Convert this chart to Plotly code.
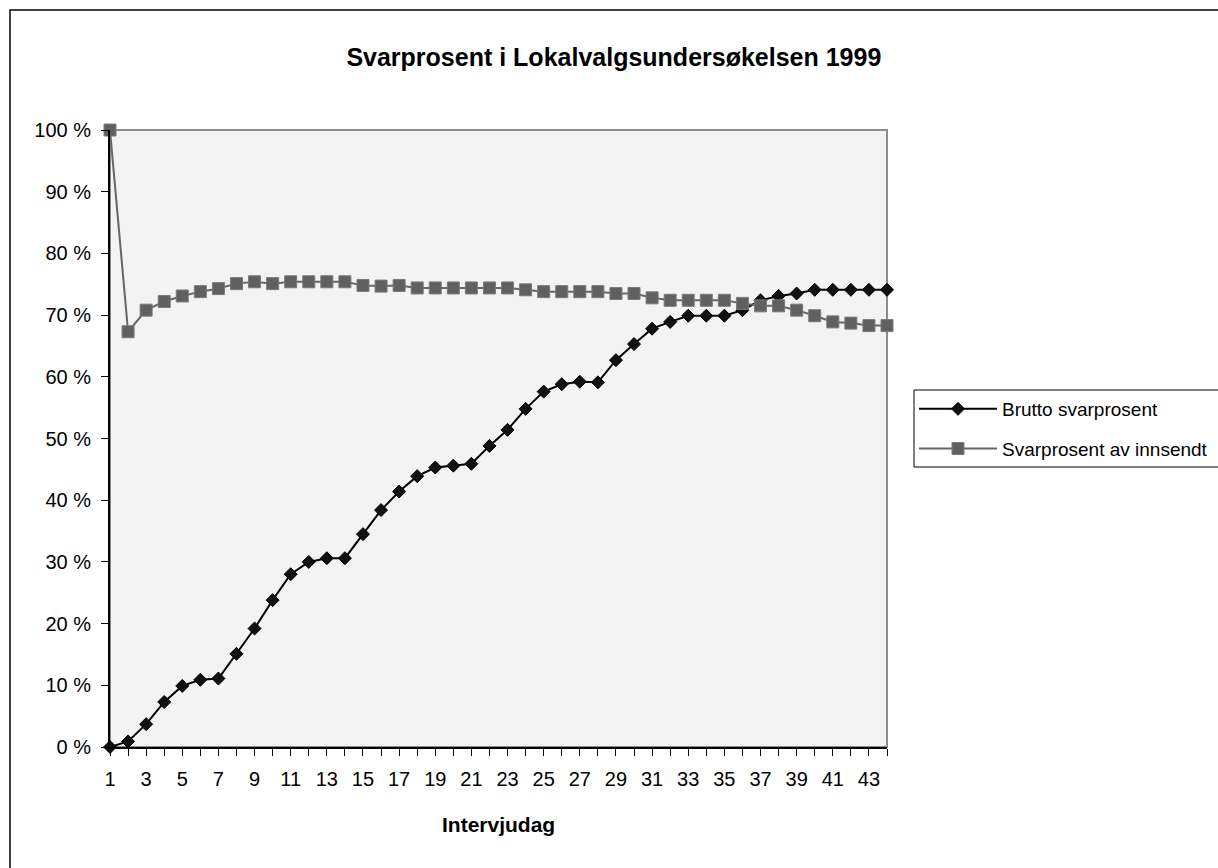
import plotly.graph_objects as go

days = list(range(1, 45))
brutto = [0.0, 0.9, 3.7, 7.3, 9.9, 10.9, 11.1, 15.1, 19.2, 23.8,
          28.0, 30.0, 30.6, 30.6, 34.5, 38.4, 41.4, 43.9, 45.3, 45.6,
          45.9, 48.8, 51.4, 54.8, 57.6, 58.8, 59.2, 59.1, 62.7, 65.3,
          67.8, 68.9, 69.9, 69.9, 69.9, 70.8, 72.4, 73.1, 73.5, 74.1,
          74.1, 74.1, 74.1, 74.1]
innsendt = [100.0, 67.3, 70.8, 72.2, 73.1, 73.8, 74.3, 75.1, 75.4, 75.1,
            75.4, 75.4, 75.4, 75.4, 74.8, 74.7, 74.8, 74.4, 74.4, 74.4,
            74.4, 74.4, 74.4, 74.1, 73.8, 73.8, 73.8, 73.8, 73.5, 73.5,
            72.8, 72.4, 72.4, 72.4, 72.4, 71.9, 71.5, 71.5, 70.8, 69.9,
            68.9, 68.7, 68.3, 68.3]
x_ticktext = [str(d) if d % 2 == 1 else "" for d in days]
y_tickvals = list(range(0, 101, 10))
y_ticktext = [f"{v} %" for v in y_tickvals]

title_text = "Svarprosent i Lokalvalgsundersøkelsen 1999"
x_title = "Intervjudag"
names = ["Brutto svarprosent", "Svarprosent av innsendt"]

FONT = "Liberation Sans, Arial, sans-serif"

W, H = 1218, 868
L, R, T, B = 110, 887, 130, 747
pw, ph = R - L, B - T


def px(x):
    return (x - L) / pw


def py(y):
    return (B - y) / ph


fig = go.Figure()
fig.add_trace(go.Scatter(
    x=days, y=brutto, name=names[0], mode="lines+markers",
    line=dict(color="#000000", width=2),
    marker=dict(symbol="diamond", size=10, color="#111111",
                line=dict(color="#000000", width=1)),
    cliponaxis=False, legendgroup="a"))
fig.add_trace(go.Scatter(
    x=days, y=innsendt, name=names[1], mode="lines+markers",
    line=dict(color="#666666", width=2),
    marker=dict(symbol="square", size=12, color="#606060",
                line=dict(color="#7a7a7a", width=1)),
    cliponaxis=False, legendgroup="b"))

shapes = [
    # outer chart frame
    dict(type="rect", xref="paper", yref="paper",
         x0=px(10), x1=px(1240), y0=py(10), y1=py(900),
         line=dict(color="#000000", width=1.5), fillcolor="rgba(0,0,0,0)", layer="below"),
    # plot area border (grey top/right)
    dict(type="rect", xref="paper", yref="paper", x0=0, x1=1, y0=0, y1=1,
         line=dict(color="#8c8c8c", width=2), fillcolor="rgba(0,0,0,0)", layer="below"),
    # legend box
    dict(type="rect", xref="paper", yref="paper",
         x0=px(914), x1=px(1240), y0=py(390), y1=py(467),
         line=dict(color="#000000", width=1), fillcolor="white", layer="below"),
]

fig.update_layout(
    width=W, height=H, autosize=False,
    margin=dict(l=L, r=W - R, t=T, b=H - B, pad=0),
    paper_bgcolor="white", plot_bgcolor="#f3f3f3",
    font=dict(family=FONT, color="#000000", size=20),
    title=dict(text=f"<b>{title_text}</b>", x=0.504, xref="container", xanchor="center",
               y=1 - 57 / H, yref="container", yanchor="middle",
               font=dict(family=FONT, size=25, color="#000000")),
    showlegend=True,
    legend=dict(x=914 / W, y=1 - 390 / H, xref="container", yref="container",
                xanchor="left", yanchor="top",
                bgcolor="rgba(0,0,0,0)", borderwidth=0,
                font=dict(family=FONT, size=19, color="#000000"),
                tracegroupgap=12, itemwidth=78),
    shapes=shapes,
    annotations=[dict(text=f"<b>{x_title}</b>", xref="paper", yref="paper",
                      x=0.5, y=py(824), xanchor="center", yanchor="middle",
                      showarrow=False, font=dict(family=FONT, size=21, color="#000000"))],
)
fig.update_xaxes(range=[1, 44], tickmode="array", tickvals=days, ticktext=x_ticktext,
                 showgrid=False, zeroline=False, showline=True, linecolor="#000000",
                 linewidth=2, ticks="outside", ticklen=7, tickwidth=1, tickcolor="#000000",
                 tickfont=dict(family=FONT, size=20, color="#000000"),
                 ticklabelstandoff=6)
fig.update_yaxes(range=[0, 100], tickmode="array", tickvals=y_tickvals, ticktext=y_ticktext,
                 showgrid=False, zeroline=False, showline=True, linecolor="#000000",
                 linewidth=2, ticks="outside", ticklen=7, tickwidth=1, tickcolor="#000000",
                 tickfont=dict(family=FONT, size=20, color="#000000"),
                 ticklabelstandoff=6)

fig.write_html("out.html", post_script="document.body.style.margin='0';",
               config={"displayModeBar": False})
